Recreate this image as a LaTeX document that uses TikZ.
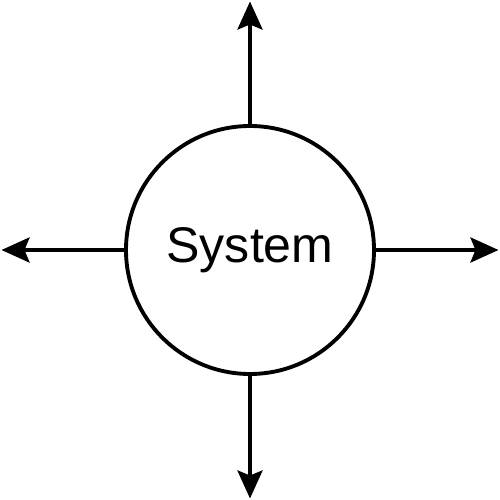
\documentclass[tikz,border=0pt]{standalone}
\usepackage{fontspec}
\setmainfont{Liberation Sans}
\usetikzlibrary{arrows.meta}
\tikzset{
  sistema/.style={circle,draw=black,line width=2.2pt,minimum size=4.96cm,inner sep=0pt,
    font=\fontsize{28.5}{31}\selectfont},
  flujo/.style={-{Stealth[length=5.6mm,width=5mm,inset=1mm]},line width=2.2pt}
}
\begin{document}
\begin{tikzpicture}
\useasboundingbox (-5,-5) rectangle (5,5);
\node[sistema] (sys) at (0,0) {System};
\coordinate (norte) at (0,4.97);
\coordinate (sur) at (0,-4.97);
\coordinate (este) at (4.97,0);
\coordinate (oeste) at (-4.97,0);
\draw[flujo] (sys.north) -- (norte);
\draw[flujo] (sys.south) -- (sur);
\draw[flujo] (sys.east) -- (este);
\draw[flujo] (sys.west) -- (oeste);
\end{tikzpicture}
\end{document}
